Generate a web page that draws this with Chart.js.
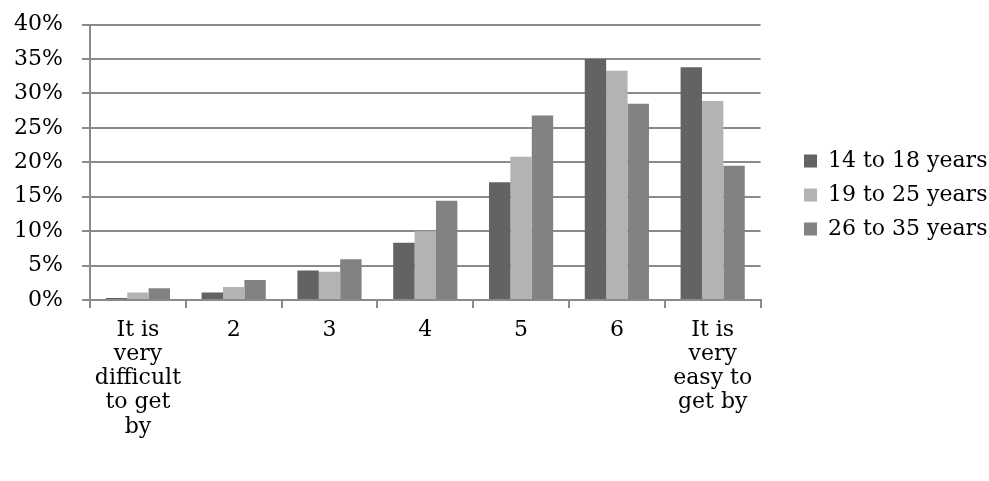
<!DOCTYPE html>
<html>
<head>
<meta charset="utf-8">
<script src="https://cdn.jsdelivr.net/npm/chart.js@4/dist/chart.umd.min.js"></script>
<style>
html,body{margin:0;padding:0;background:#fff;}
#wrap{width:989px;height:481px;position:relative;}
</style>
</head>
<body>
<div id="wrap"><canvas id="c" width="989" height="481"></canvas></div>
<script>
const categories = [
  ["It is", "very", "difficult", "to get", "by"],
  "2", "3", "4", "5", "6",
  ["It is", "very", "easy to", "get by"]
];
const seriesNames = ["14 to 18 years", "19 to 25 years", "26 to 35 years"];
const age14to18 = [0.3, 1.1, 4.3, 8.3, 17.1, 35.0, 33.8];
const age19to25 = [1.1, 1.9, 4.1, 10.0, 20.8, 33.3, 28.9];
const age26to35 = [1.7, 2.9, 5.9, 14.4, 26.8, 28.5, 19.5];
const yTicks = [0, 5, 10, 15, 20, 25, 30, 35, 40];
const colors = ["#636363", "#b3b3b3", "#828282"];

const FONT = "'DejaVu Serif', serif";
const FS = 22;
const axisGray = "#8a8a8a";

const legendMover = {
  id: 'legendMover',
  afterLayout(chart) {
    const lg = chart.legend;
    if (!lg) return;
    const dx = 792 - lg.left;
    lg.left += dx; lg.right += dx;
    const h = lg.bottom - lg.top;
    const cy = 195;
    lg.top = cy - h / 2; lg.bottom = cy + h / 2;
  }
};

new Chart(document.getElementById('c'), {
  type: 'bar',
  data: {
    labels: categories,
    datasets: [age14to18, age19to25, age26to35].map((d, i) => ({
      label: seriesNames[i],
      data: d,
      backgroundColor: colors[i],
      borderWidth: 0,
      categoryPercentage: 0.67,
      barPercentage: 1.0
    }))
  },
  options: {
    responsive: false,
    animation: false,
    layout: { padding: { left: 14, top: 0, right: 23, bottom: 32 } },
    plugins: {
      tooltip: { enabled: false },
      legend: {
        position: 'right',
        align: 'center',
        labels: {
          font: { family: FONT, size: FS },
          color: '#000',
          boxWidth: 13,
          boxHeight: 13,
          padding: 12
        }
      }
    },
    scales: {
      x: {
        offset: true,
        grid: {
          offset: true,
          drawOnChartArea: false,
          drawTicks: true,
          tickLength: 8,
          color: axisGray,
          lineWidth: 2
        },
        border: { color: axisGray, width: 2 },
        ticks: {
          font: { family: FONT, size: FS, lineHeight: 1.1 },
          color: '#000',
          maxRotation: 0,
          autoSkip: false,
          padding: 10
        }
      },
      y: {
        min: 0,
        max: 40,
        afterBuildTicks: (axis) => { axis.ticks = yTicks.map(v => ({ value: v })); },
        afterFit: (scale) => { scale.width = 76; },
        grid: {
          color: axisGray,
          lineWidth: 2,
          drawTicks: true,
          tickLength: 8
        },
        border: { color: axisGray, width: 2 },
        ticks: {
          font: { family: FONT, size: FS, lineHeight: 0.5 },
          color: '#000',
          padding: 19,
          callback: (v) => v + '%'
        }
      }
    }
  },
  plugins: [legendMover]
});
</script>
</body>
</html>
